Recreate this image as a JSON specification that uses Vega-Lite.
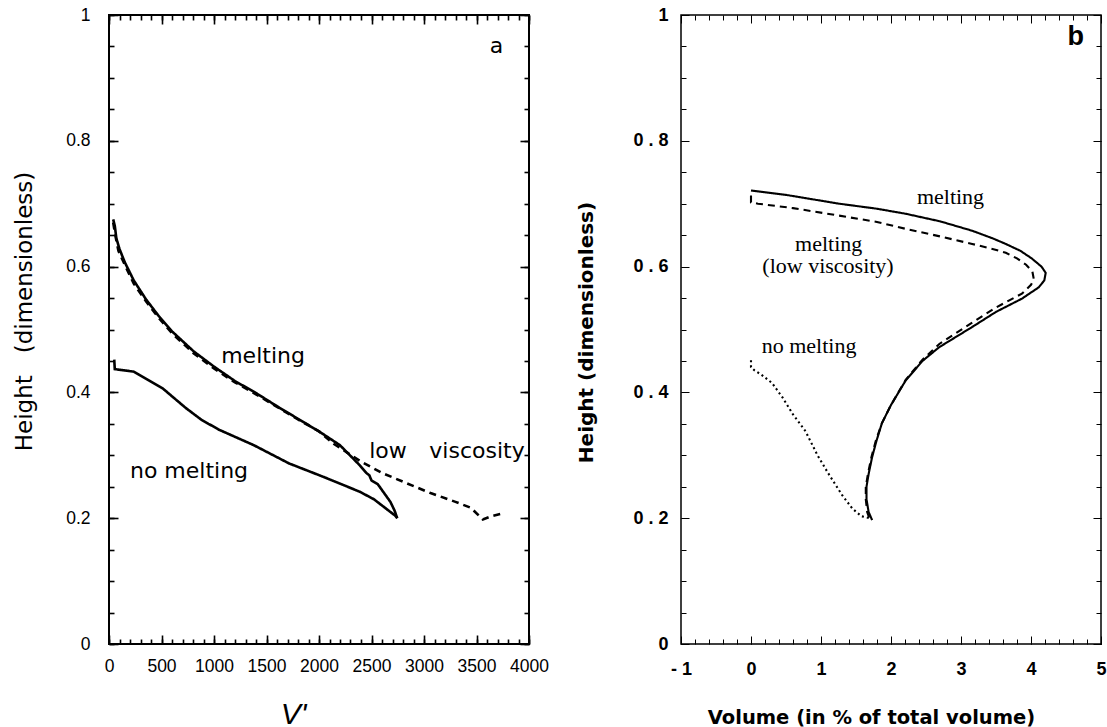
{
  "$schema": "https://vega.github.io/schema/vega-lite/v6.json",
  "padding": {"left": 12, "top": 5, "right": 0, "bottom": 0},
  "background": "white",
  "spacing": 25,
  "resolve": {"scale": {"strokeDash": "independent"}},
  "config": {
    "axis": {"labelColor": "black", "tickColor": "black", "titleColor": "black", "grid": false, "domain": false, "labelFlush": false, "labelOverlap": false},
    "text": {"color": "black"}
  },
  "datasets": {
    "a_lines": [
      {"s": "melting", "i": 1, "x": 40, "y": 0.675},
      {"s": "melting", "i": 2, "x": 55, "y": 0.665},
      {"s": "melting", "i": 3, "x": 70, "y": 0.645},
      {"s": "melting", "i": 4, "x": 100, "y": 0.628},
      {"s": "melting", "i": 5, "x": 150, "y": 0.607},
      {"s": "melting", "i": 6, "x": 236, "y": 0.578},
      {"s": "melting", "i": 7, "x": 352, "y": 0.548},
      {"s": "melting", "i": 8, "x": 471, "y": 0.522},
      {"s": "melting", "i": 9, "x": 600, "y": 0.497},
      {"s": "melting", "i": 10, "x": 808, "y": 0.465},
      {"s": "melting", "i": 11, "x": 1000, "y": 0.441},
      {"s": "melting", "i": 12, "x": 1200, "y": 0.418},
      {"s": "melting", "i": 13, "x": 1400, "y": 0.399},
      {"s": "melting", "i": 14, "x": 1600, "y": 0.378},
      {"s": "melting", "i": 15, "x": 1800, "y": 0.358},
      {"s": "melting", "i": 16, "x": 2000, "y": 0.338},
      {"s": "melting", "i": 17, "x": 2200, "y": 0.316},
      {"s": "melting", "i": 18, "x": 2389, "y": 0.284},
      {"s": "melting", "i": 19, "x": 2450, "y": 0.272},
      {"s": "melting", "i": 20, "x": 2480, "y": 0.268},
      {"s": "melting", "i": 21, "x": 2500, "y": 0.26},
      {"s": "melting", "i": 22, "x": 2560, "y": 0.254},
      {"s": "melting", "i": 23, "x": 2620, "y": 0.24},
      {"s": "melting", "i": 24, "x": 2680, "y": 0.226},
      {"s": "melting", "i": 25, "x": 2720, "y": 0.212},
      {"s": "melting", "i": 26, "x": 2745, "y": 0.2},
      {"s": "no melting", "i": 1, "x": 50, "y": 0.452},
      {"s": "no melting", "i": 2, "x": 55, "y": 0.437},
      {"s": "no melting", "i": 3, "x": 236, "y": 0.433},
      {"s": "no melting", "i": 4, "x": 514, "y": 0.406},
      {"s": "no melting", "i": 5, "x": 733, "y": 0.375},
      {"s": "no melting", "i": 6, "x": 876, "y": 0.357},
      {"s": "no melting", "i": 7, "x": 1043, "y": 0.341},
      {"s": "no melting", "i": 8, "x": 1380, "y": 0.316},
      {"s": "no melting", "i": 9, "x": 1716, "y": 0.287},
      {"s": "no melting", "i": 10, "x": 2053, "y": 0.265},
      {"s": "no melting", "i": 11, "x": 2389, "y": 0.242},
      {"s": "no melting", "i": 12, "x": 2524, "y": 0.23},
      {"s": "no melting", "i": 13, "x": 2726, "y": 0.204},
      {"s": "no melting", "i": 14, "x": 2745, "y": 0.2},
      {"s": "low viscosity", "i": 1, "x": 40, "y": 0.67},
      {"s": "low viscosity", "i": 2, "x": 60, "y": 0.65},
      {"s": "low viscosity", "i": 3, "x": 90, "y": 0.625},
      {"s": "low viscosity", "i": 4, "x": 150, "y": 0.603},
      {"s": "low viscosity", "i": 5, "x": 236, "y": 0.573},
      {"s": "low viscosity", "i": 6, "x": 352, "y": 0.545},
      {"s": "low viscosity", "i": 7, "x": 471, "y": 0.519},
      {"s": "low viscosity", "i": 8, "x": 600, "y": 0.494},
      {"s": "low viscosity", "i": 9, "x": 808, "y": 0.462},
      {"s": "low viscosity", "i": 10, "x": 1000, "y": 0.438},
      {"s": "low viscosity", "i": 11, "x": 1200, "y": 0.416},
      {"s": "low viscosity", "i": 12, "x": 1400, "y": 0.397},
      {"s": "low viscosity", "i": 13, "x": 1600, "y": 0.377},
      {"s": "low viscosity", "i": 14, "x": 1800, "y": 0.357},
      {"s": "low viscosity", "i": 15, "x": 2000, "y": 0.338},
      {"s": "low viscosity", "i": 16, "x": 2143, "y": 0.318},
      {"s": "low viscosity", "i": 17, "x": 2400, "y": 0.29},
      {"s": "low viscosity", "i": 18, "x": 2600, "y": 0.272},
      {"s": "low viscosity", "i": 19, "x": 2800, "y": 0.258},
      {"s": "low viscosity", "i": 20, "x": 3062, "y": 0.24},
      {"s": "low viscosity", "i": 21, "x": 3300, "y": 0.226},
      {"s": "low viscosity", "i": 22, "x": 3440, "y": 0.217},
      {"s": "low viscosity", "i": 23, "x": 3480, "y": 0.211},
      {"s": "low viscosity", "i": 24, "x": 3560, "y": 0.198},
      {"s": "low viscosity", "i": 25, "x": 3640, "y": 0.203},
      {"s": "low viscosity", "i": 26, "x": 3760, "y": 0.208}
    ],
    "b_lines": [
      {"s": "melting", "i": 1, "x": 0, "y": 0.721},
      {"s": "melting", "i": 2, "x": 0.5, "y": 0.714},
      {"s": "melting", "i": 3, "x": 1.26, "y": 0.7},
      {"s": "melting", "i": 4, "x": 1.8, "y": 0.692},
      {"s": "melting", "i": 5, "x": 2.21, "y": 0.684},
      {"s": "melting", "i": 6, "x": 2.7, "y": 0.672},
      {"s": "melting", "i": 7, "x": 3.16, "y": 0.657},
      {"s": "melting", "i": 8, "x": 3.45, "y": 0.645},
      {"s": "melting", "i": 9, "x": 3.64, "y": 0.636},
      {"s": "melting", "i": 10, "x": 3.85, "y": 0.625},
      {"s": "melting", "i": 11, "x": 4.01, "y": 0.613},
      {"s": "melting", "i": 12, "x": 4.15, "y": 0.6},
      {"s": "melting", "i": 13, "x": 4.21, "y": 0.59},
      {"s": "melting", "i": 14, "x": 4.19, "y": 0.578},
      {"s": "melting", "i": 15, "x": 4.11, "y": 0.567},
      {"s": "melting", "i": 16, "x": 3.87, "y": 0.549},
      {"s": "melting", "i": 17, "x": 3.5, "y": 0.528},
      {"s": "melting", "i": 18, "x": 3.16, "y": 0.504},
      {"s": "melting", "i": 19, "x": 2.69, "y": 0.472},
      {"s": "melting", "i": 20, "x": 2.45, "y": 0.45},
      {"s": "melting", "i": 21, "x": 2.21, "y": 0.419},
      {"s": "melting", "i": 22, "x": 2.0, "y": 0.38},
      {"s": "melting", "i": 23, "x": 1.87, "y": 0.351},
      {"s": "melting", "i": 24, "x": 1.79, "y": 0.322},
      {"s": "melting", "i": 25, "x": 1.73, "y": 0.297},
      {"s": "melting", "i": 26, "x": 1.68, "y": 0.27},
      {"s": "melting", "i": 27, "x": 1.65, "y": 0.25},
      {"s": "melting", "i": 28, "x": 1.65, "y": 0.23},
      {"s": "melting", "i": 29, "x": 1.68, "y": 0.21},
      {"s": "melting", "i": 30, "x": 1.73, "y": 0.197},
      {"s": "low viscosity", "i": 1, "x": 0, "y": 0.713},
      {"s": "low viscosity", "i": 2, "x": 0, "y": 0.702},
      {"s": "low viscosity", "i": 3, "x": 0.1, "y": 0.7},
      {"s": "low viscosity", "i": 4, "x": 0.6, "y": 0.693},
      {"s": "low viscosity", "i": 5, "x": 1.26, "y": 0.681},
      {"s": "low viscosity", "i": 6, "x": 1.8, "y": 0.671},
      {"s": "low viscosity", "i": 7, "x": 2.21, "y": 0.66},
      {"s": "low viscosity", "i": 8, "x": 2.7, "y": 0.648},
      {"s": "low viscosity", "i": 9, "x": 3.16, "y": 0.636},
      {"s": "low viscosity", "i": 10, "x": 3.45, "y": 0.628},
      {"s": "low viscosity", "i": 11, "x": 3.64, "y": 0.622},
      {"s": "low viscosity", "i": 12, "x": 3.8, "y": 0.613},
      {"s": "low viscosity", "i": 13, "x": 3.93, "y": 0.603},
      {"s": "low viscosity", "i": 14, "x": 4.02, "y": 0.592},
      {"s": "low viscosity", "i": 15, "x": 4.04, "y": 0.58},
      {"s": "low viscosity", "i": 16, "x": 4.0, "y": 0.571},
      {"s": "low viscosity", "i": 17, "x": 3.87, "y": 0.557},
      {"s": "low viscosity", "i": 18, "x": 3.5, "y": 0.535},
      {"s": "low viscosity", "i": 19, "x": 3.16, "y": 0.511},
      {"s": "low viscosity", "i": 20, "x": 2.69, "y": 0.477},
      {"s": "low viscosity", "i": 21, "x": 2.45, "y": 0.452},
      {"s": "low viscosity", "i": 22, "x": 2.21, "y": 0.42},
      {"s": "low viscosity", "i": 23, "x": 2.0, "y": 0.38},
      {"s": "low viscosity", "i": 24, "x": 1.87, "y": 0.351},
      {"s": "low viscosity", "i": 25, "x": 1.78, "y": 0.322},
      {"s": "low viscosity", "i": 26, "x": 1.72, "y": 0.297},
      {"s": "low viscosity", "i": 27, "x": 1.67, "y": 0.27},
      {"s": "low viscosity", "i": 28, "x": 1.64, "y": 0.25},
      {"s": "low viscosity", "i": 29, "x": 1.64, "y": 0.23},
      {"s": "low viscosity", "i": 30, "x": 1.66, "y": 0.21},
      {"s": "low viscosity", "i": 31, "x": 1.7, "y": 0.197},
      {"s": "no melting", "i": 1, "x": 0, "y": 0.451},
      {"s": "no melting", "i": 2, "x": 0, "y": 0.44},
      {"s": "no melting", "i": 3, "x": 0.05, "y": 0.435},
      {"s": "no melting", "i": 4, "x": 0.15, "y": 0.428},
      {"s": "no melting", "i": 5, "x": 0.3, "y": 0.415},
      {"s": "no melting", "i": 6, "x": 0.45, "y": 0.392},
      {"s": "no melting", "i": 7, "x": 0.6, "y": 0.365},
      {"s": "no melting", "i": 8, "x": 0.78, "y": 0.338},
      {"s": "no melting", "i": 9, "x": 0.95, "y": 0.3},
      {"s": "no melting", "i": 10, "x": 1.1, "y": 0.272},
      {"s": "no melting", "i": 11, "x": 1.3, "y": 0.237},
      {"s": "no melting", "i": 12, "x": 1.45, "y": 0.215},
      {"s": "no melting", "i": 13, "x": 1.58, "y": 0.203},
      {"s": "no melting", "i": 14, "x": 1.7, "y": 0.2}
    ],
    "a_text": [
      {"t": "a", "x": 3690, "y": 0.94},
      {"t": "melting", "x": 1467, "y": 0.446},
      {"t": "no  melting", "x": 762, "y": 0.264},
      {"t": "low", "x": 2657, "y": 0.296},
      {"t": "viscosity", "x": 3505, "y": 0.296}
    ],
    "b_text": [
      {"t": "melting", "x": 2.85, "y": 0.70},
      {"t": "melting", "x": 1.11, "y": 0.625},
      {"t": "(low viscosity)", "x": 1.1, "y": 0.59},
      {"t": "no melting", "x": 0.83, "y": 0.462}
    ],
    "b_label": [
      {"t": "b", "x": 4.64, "y": 0.952}
    ]
  },
  "hconcat": [
    {
      "width": 420,
      "height": 629,
      "view": {"stroke": "black", "strokeWidth": 2},
      "resolve": {"axis": {"x": "independent", "y": "independent"}},
      "layer": [
        {
          "data": {"name": "a_lines"},
          "mark": {"type": "line", "color": "black", "strokeWidth": 2.6},
          "encoding": {
            "x": {"field": "x", "type": "quantitative", "scale": {"domain": [0, 4000], "nice": false, "zero": false},
              "axis": {"orient": "bottom", "values": [0, 500, 1000, 1500, 2000, 2500, 3000, 3500, 4000], "ticks": false, "labelExpr": "format(datum.value, 'd')", "labelFont": "Liberation Sans", "labelFontSize": 17.5, "labelPadding": 13,
                "title": "V'", "titleFont": "Liberation Sans", "titleFontSize": 30, "titleFontStyle": "italic", "titleFontWeight": "normal", "titleX": 184, "titleY": 79, "titleBaseline": "alphabetic", "titleAlign": "center"}},
            "y": {"field": "y", "type": "quantitative", "scale": {"domain": [0, 1], "nice": false, "zero": false},
              "axis": {"orient": "left", "values": [0, 0.2, 0.4, 0.6, 0.8, 1], "ticks": false, "labelExpr": "format(datum.value, '~g')", "labelFont": "Liberation Sans", "labelFontSize": 17.5, "labelPadding": 19,
                "title": "Height\u00a0\u00a0\u00a0(dimensionless)", "titleFont": "DejaVu Sans", "titleFontSize": 23, "titleFontWeight": "normal", "titleX": -85, "titleY": 296, "titleBaseline": "middle", "titleAlign": "center", "titleAngle": 270}},
            "strokeDash": {"field": "s", "type": "nominal", "scale": {"domain": ["melting", "no melting", "low viscosity"], "range": [[1, 0], [1, 0], [7, 5]]}, "legend": null},
            "order": {"field": "i", "type": "quantitative"}
          }
        },
        {
          "data": {"name": "a_lines"},
          "mark": {"type": "point", "opacity": 0},
          "encoding": {
            "x": {"field": "x", "type": "quantitative", "scale": {"domain": [0, 4000], "nice": false, "zero": false},
              "axis": {"orient": "bottom", "values": [0, 500, 1000, 1500, 2000, 2500, 3000, 3500, 4000], "tickSize": -9, "tickWidth": 1.6, "labels": false, "title": null}},
            "y": {"field": "y", "type": "quantitative", "scale": {"domain": [0, 1], "nice": false, "zero": false},
              "axis": {"orient": "left", "values": [0, 0.2, 0.4, 0.6, 0.8, 1], "tickSize": -9, "tickWidth": 1.6, "labels": false, "title": null}}
          }
        },
        {
          "data": {"name": "a_lines"},
          "mark": {"type": "point", "opacity": 0},
          "encoding": {
            "x": {"field": "x", "type": "quantitative", "scale": {"domain": [0, 4000], "nice": false, "zero": false},
              "axis": {"orient": "bottom", "values": [0,100,200,300,400,500,600,700,800,900,1000,1100,1200,1300,1400,1500,1600,1700,1800,1900,2000,2100,2200,2300,2400,2500,2600,2700,2800,2900,3000,3100,3200,3300,3400,3500,3600,3700,3800,3900,4000], "tickSize": -5, "tickWidth": 1.6, "labels": false, "title": null}},
            "y": {"field": "y", "type": "quantitative", "scale": {"domain": [0, 1], "nice": false, "zero": false},
              "axis": {"orient": "left", "values": [0,0.05,0.1,0.15,0.2,0.25,0.3,0.35,0.4,0.45,0.5,0.55,0.6,0.65,0.7,0.75,0.8,0.85,0.9,0.95,1], "tickSize": -5, "tickWidth": 1.6, "labels": false, "title": null}}
          }
        },
        {
          "data": {"name": "a_lines"},
          "mark": {"type": "point", "opacity": 0},
          "encoding": {
            "x": {"field": "x", "type": "quantitative", "scale": {"domain": [0, 4000], "nice": false, "zero": false},
              "axis": {"orient": "top", "values": [0, 500, 1000, 1500, 2000, 2500, 3000, 3500, 4000], "tickSize": -9, "tickWidth": 1.6, "labels": false, "title": null}},
            "y": {"field": "y", "type": "quantitative", "scale": {"domain": [0, 1], "nice": false, "zero": false},
              "axis": {"orient": "right", "values": [0, 0.2, 0.4, 0.6, 0.8, 1], "tickSize": -9, "tickWidth": 1.6, "labels": false, "title": null}}
          }
        },
        {
          "data": {"name": "a_lines"},
          "mark": {"type": "point", "opacity": 0},
          "encoding": {
            "x": {"field": "x", "type": "quantitative", "scale": {"domain": [0, 4000], "nice": false, "zero": false},
              "axis": {"orient": "top", "values": [0,100,200,300,400,500,600,700,800,900,1000,1100,1200,1300,1400,1500,1600,1700,1800,1900,2000,2100,2200,2300,2400,2500,2600,2700,2800,2900,3000,3100,3200,3300,3400,3500,3600,3700,3800,3900,4000], "tickSize": -5, "tickWidth": 1.6, "labels": false, "title": null}},
            "y": {"field": "y", "type": "quantitative", "scale": {"domain": [0, 1], "nice": false, "zero": false},
              "axis": {"orient": "right", "values": [0,0.05,0.1,0.15,0.2,0.25,0.3,0.35,0.4,0.45,0.5,0.55,0.6,0.65,0.7,0.75,0.8,0.85,0.9,0.95,1], "tickSize": -5, "tickWidth": 1.6, "labels": false, "title": null}}
          }
        },
        {
          "data": {"name": "a_text"},
          "mark": {"type": "text", "font": "DejaVu Sans", "fontSize": 22, "align": "center", "baseline": "alphabetic", "color": "black"},
          "encoding": {
            "x": {"field": "x", "type": "quantitative", "scale": {"domain": [0, 4000], "nice": false, "zero": false}, "axis": null},
            "y": {"field": "y", "type": "quantitative", "scale": {"domain": [0, 1], "nice": false, "zero": false}, "axis": null},
            "text": {"field": "t", "type": "nominal"}
          }
        }
      ]
    },
    {
      "width": 420,
      "height": 629,
      "view": {"stroke": "black", "strokeWidth": 1.5},
      "resolve": {"axis": {"x": "independent", "y": "independent"}},
      "layer": [
        {
          "data": {"name": "b_lines"},
          "mark": {"type": "line", "color": "black", "strokeWidth": 2.1},
          "encoding": {
            "x": {"field": "x", "type": "quantitative", "scale": {"domain": [-1, 5], "nice": false, "zero": false},
              "axis": {"orient": "bottom", "values": [-1, 0, 1, 2, 3, 4, 5], "ticks": false, "labelExpr": "datum.value < 0 ? '- ' + format(-datum.value, 'd') : format(datum.value, 'd')", "labelFont": "Liberation Sans", "labelFontSize": 18, "labelFontWeight": "bold", "labelPadding": 16,
                "title": "Volume (in % of total volume)", "titleFont": "DejaVu Sans", "titleFontSize": 19.5, "titleFontWeight": "bold", "titleX": 190, "titleY": 79, "titleBaseline": "alphabetic", "titleAlign": "center"}},
            "y": {"field": "y", "type": "quantitative", "scale": {"domain": [0, 1], "nice": false, "zero": false},
              "axis": {"orient": "left", "values": [0, 0.2, 0.4, 0.6, 0.8, 1], "ticks": false, "labelExpr": "replace(format(datum.value, '~g'), '.', ' . ')", "labelFont": "Liberation Sans", "labelFontSize": 18, "labelFontWeight": "bold", "labelPadding": 13,
                "title": "Height (dimensionless)", "titleFont": "DejaVu Sans", "titleFontSize": 20, "titleFontWeight": "bold", "titleX": -95, "titleY": 317, "titleBaseline": "middle", "titleAlign": "center", "titleAngle": 270}},
            "strokeDash": {"field": "s", "type": "nominal", "scale": {"domain": ["melting", "low viscosity", "no melting"], "range": [[1, 0], [7, 5], [2, 3]]}, "legend": null},
            "order": {"field": "i", "type": "quantitative"}
          }
        },
        {
          "data": {"name": "b_lines"},
          "mark": {"type": "point", "opacity": 0},
          "encoding": {
            "x": {"field": "x", "type": "quantitative", "scale": {"domain": [-1, 5], "nice": false, "zero": false},
              "axis": {"orient": "bottom", "values": [-1, 0, 1, 2, 3, 4, 5], "tickSize": -8, "tickWidth": 1, "labels": false, "title": null}},
            "y": {"field": "y", "type": "quantitative", "scale": {"domain": [0, 1], "nice": false, "zero": false},
              "axis": {"orient": "left", "values": [0, 0.2, 0.4, 0.6, 0.8, 1], "tickSize": -8, "tickWidth": 1, "labels": false, "title": null}}
          }
        },
        {
          "data": {"name": "b_lines"},
          "mark": {"type": "point", "opacity": 0},
          "encoding": {
            "x": {"field": "x", "type": "quantitative", "scale": {"domain": [-1, 5], "nice": false, "zero": false},
              "axis": {"orient": "bottom", "values": [-1,-0.8,-0.6,-0.4,-0.2,0,0.2,0.4,0.6,0.8,1,1.2,1.4,1.6,1.8,2,2.2,2.4,2.6,2.8,3,3.2,3.4,3.6,3.8,4,4.2,4.4,4.6,4.8,5], "tickSize": -5, "tickWidth": 1, "labels": false, "title": null}},
            "y": {"field": "y", "type": "quantitative", "scale": {"domain": [0, 1], "nice": false, "zero": false},
              "axis": {"orient": "left", "values": [0,0.05,0.1,0.15,0.2,0.25,0.3,0.35,0.4,0.45,0.5,0.55,0.6,0.65,0.7,0.75,0.8,0.85,0.9,0.95,1], "tickSize": -5, "tickWidth": 1, "labels": false, "title": null}}
          }
        },
        {
          "data": {"name": "b_lines"},
          "mark": {"type": "point", "opacity": 0},
          "encoding": {
            "x": {"field": "x", "type": "quantitative", "scale": {"domain": [-1, 5], "nice": false, "zero": false},
              "axis": {"orient": "top", "values": [-1, 0, 1, 2, 3, 4, 5], "tickSize": -8, "tickWidth": 1, "labels": false, "title": null}},
            "y": {"field": "y", "type": "quantitative", "scale": {"domain": [0, 1], "nice": false, "zero": false},
              "axis": {"orient": "right", "values": [0, 0.2, 0.4, 0.6, 0.8, 1], "tickSize": -8, "tickWidth": 1, "labels": false, "title": null}}
          }
        },
        {
          "data": {"name": "b_lines"},
          "mark": {"type": "point", "opacity": 0},
          "encoding": {
            "x": {"field": "x", "type": "quantitative", "scale": {"domain": [-1, 5], "nice": false, "zero": false},
              "axis": {"orient": "top", "values": [-1,-0.8,-0.6,-0.4,-0.2,0,0.2,0.4,0.6,0.8,1,1.2,1.4,1.6,1.8,2,2.2,2.4,2.6,2.8,3,3.2,3.4,3.6,3.8,4,4.2,4.4,4.6,4.8,5], "tickSize": -5, "tickWidth": 1, "labels": false, "title": null}},
            "y": {"field": "y", "type": "quantitative", "scale": {"domain": [0, 1], "nice": false, "zero": false},
              "axis": {"orient": "right", "values": [0,0.05,0.1,0.15,0.2,0.25,0.3,0.35,0.4,0.45,0.5,0.55,0.6,0.65,0.7,0.75,0.8,0.85,0.9,0.95,1], "tickSize": -5, "tickWidth": 1, "labels": false, "title": null}}
          }
        },
        {
          "data": {"name": "b_text"},
          "mark": {"type": "text", "font": "Liberation Serif", "fontSize": 22, "align": "center", "baseline": "alphabetic", "color": "black"},
          "encoding": {
            "x": {"field": "x", "type": "quantitative", "scale": {"domain": [-1, 5], "nice": false, "zero": false}, "axis": null},
            "y": {"field": "y", "type": "quantitative", "scale": {"domain": [0, 1], "nice": false, "zero": false}, "axis": null},
            "text": {"field": "t", "type": "nominal"}
          }
        },
        {
          "data": {"name": "b_label"},
          "mark": {"type": "text", "font": "Liberation Sans", "fontSize": 27, "fontWeight": "bold", "align": "center", "baseline": "alphabetic", "color": "black"},
          "encoding": {
            "x": {"field": "x", "type": "quantitative", "scale": {"domain": [-1, 5], "nice": false, "zero": false}, "axis": null},
            "y": {"field": "y", "type": "quantitative", "scale": {"domain": [0, 1], "nice": false, "zero": false}, "axis": null},
            "text": {"field": "t", "type": "nominal"}
          }
        }
      ]
    }
  ]
}
